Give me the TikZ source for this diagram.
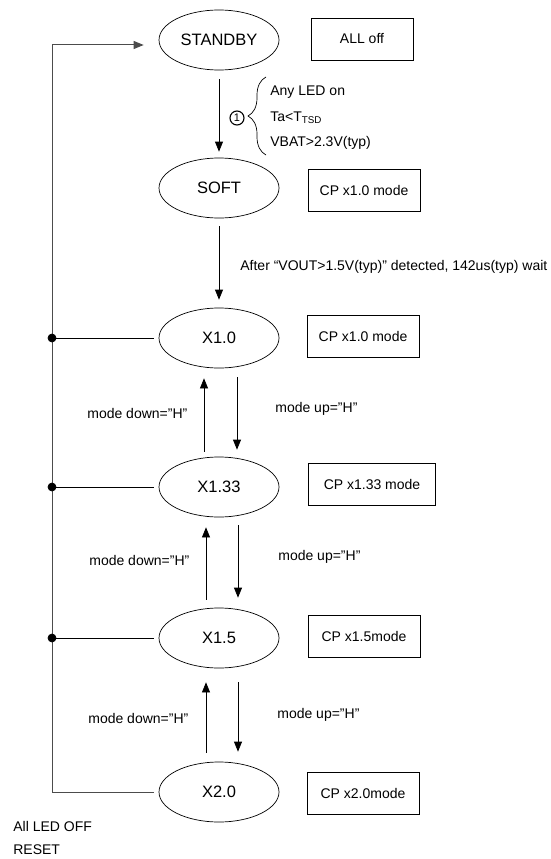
\documentclass[tikz,border=0pt]{standalone}
\usepackage{fontspec}
\setmainfont{Liberation Sans}
\usetikzlibrary{shapes.geometric,arrows.meta,decorations.pathreplacing}

\tikzset{
  state/.style={draw, ellipse, minimum width=120pt, minimum height=60pt, inner sep=0pt, font=\fontsize{16.5}{18}\selectfont},
  modebox/.style={draw, minimum width=112pt, minimum height=42pt, inner sep=0pt, font=\fontsize{14}{16}\selectfont},
  lbl/.style={anchor=west, inner sep=0pt, font=\fontsize{14}{16}\selectfont},
  arr/.style={-{Triangle[length=10pt,width=8pt]}},
  bus/.style={black!70, line width=1pt},
  junction/.style={circle, fill, draw, inner sep=0pt, minimum size=8pt},
}

\begin{document}
\begin{tikzpicture}[x=1pt, y=-1pt, line width=0.7pt]

        \useasboundingbox (0,0) rectangle (551,859);

        %States
        \node [state] (standby) at (219,40) {STANDBY};
        \node [state] (soft) at (219,188) {SOFT};
        \node [state] (x10) at (219,338) {X1.0};
        \node [state] (x133) at (219,487) {X1.33};
        \node [state] (x15) at (219,638) {X1.5};
        \node [state] (x20) at (219,792) {X2.0};

        %Charge pump modes
        \node [modebox, minimum width=102pt] (alloff) at (362,39) {ALL off};
        \node [modebox] (softmode) at (364,190) {CP x1.0 mode};
        \node [modebox] (x10mode) at (363,336) {CP x1.0 mode};
        \node [modebox, minimum width=127pt] (x133mode) at (372,484) {CP x1.33 mode};
        \node [modebox] (x15mode) at (364,636) {CP x1.5mode};
        \node [modebox] (x20mode) at (363,793) {CP x2.0mode};

        %Start-up condition
        \draw [arr, shorten <=9pt, shorten >=6pt] (standby) -- (soft);
        \node [circle, draw, line width=1.1pt, inner sep=0pt, minimum size=14pt, font=\fontsize{11}{11}\selectfont] (cond) at (237,118) {1};
        \coordinate (bracetop) at (266,77);
        \coordinate (bracebot) at (266,155);
        \draw [decorate, decoration={brace, amplitude=18pt}] (bracebot) -- (bracetop);
        \node [lbl] (cond1) at (270,92) {Any LED on};
        \node [lbl] (cond2) at (270,118) {Ta<T\textsubscript{TSD}};
        \node [lbl] (cond3) at (270,143) {VBAT>2.3V(typ)};

        %Soft start
        \draw [arr, shorten <=8pt, shorten >=8pt] (soft) -- (x10);
        \node [lbl] (waitlbl) at (240,267) {After “VOUT>1.5V(typ)” detected, 142us(typ) wait};

        %X1.0 <-> X1.33
        \draw [arr, shorten <=5pt, shorten >=10pt] ([xshift=-15pt]x133.north) -- ([xshift=-15pt]x10.south);
        \draw [arr, shorten <=9pt, shorten >=7pt] ([xshift=18pt]x10.south) -- ([xshift=18pt]x133.north);
        \node [lbl] (down1) at (87,413) {mode down=”H”};
        \node [lbl] (up1) at (275,409) {mode up=”H”};

        %X1.33 <-> X1.5
        \draw [arr, shorten <=8pt, shorten >=10pt] ([xshift=-13pt]x15.north) -- ([xshift=-13pt]x133.south);
        \draw [arr, shorten <=8pt, shorten >=10pt] ([xshift=19pt]x133.south) -- ([xshift=19pt]x15.north);
        \node [lbl] (down2) at (89,560) {mode down=”H”};
        \node [lbl] (up2) at (278,557) {mode up=”H”};

        %X1.5 <-> X2.0
        \draw [arr, shorten <=9pt, shorten >=14pt] ([xshift=-13pt]x20.north) -- ([xshift=-13pt]x15.south);
        \draw [arr, shorten <=14pt, shorten >=10pt] ([xshift=19pt]x15.south) -- ([xshift=19pt]x20.north);
        \node [lbl] (down3) at (88,718) {mode down=”H”};
        \node [lbl] (up3) at (277,715) {mode up=”H”};

        %Reset line
        \coordinate (bustop) at (52,45);
        \draw [bus, shorten <=5pt] (x20.west) -| (bustop);
        \draw [bus, arr, shorten >=15pt] (bustop) -- (standby.west |- bustop);
        \node [junction] (j10) at (x10.west -| bustop) {};
        \node [junction] (j133) at (x133.west -| bustop) {};
        \node [junction] (j15) at (x15.west -| bustop) {};
        \draw [shorten >=5pt] (j10.center) -- (x10.west);
        \draw [shorten >=5pt] (j133.center) -- (x133.west);
        \draw [shorten >=5pt] (j15.center) -- (x15.west);
        \node [lbl] (ledoff) at (13,826) {All LED OFF};
        \node [lbl] (reset) at (13,850) {RESET};

\end{tikzpicture}
\end{document}
